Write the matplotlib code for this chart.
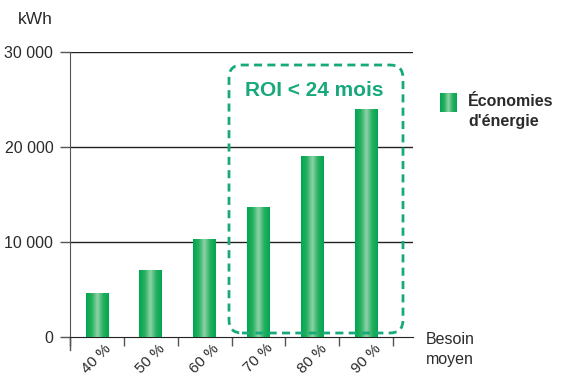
import numpy as np
import matplotlib
matplotlib.use('Agg')
import matplotlib.pyplot as plt
from matplotlib.colors import LinearSegmentedColormap
from matplotlib.patches import FancyBboxPatch

plt.rcParams['font.family'] = ['Liberation Sans', 'DejaVu Sans']

# besoin moyen -> économies annuelles (kWh)
categories = ['40 %', '50 %', '60 %', '70 %', '80 %', '90 %']
savings = [4600, 7000, 10300, 13600, 19000, 24000]
yticks = [0, 10000, 20000, 30000]
ytick_labels = ['0', '10 000', '20 000', '30 000']

text_col = '#2b2b2b'
roi_col = '#17a97b'
bar_cmap = LinearSegmentedColormap.from_list(
    'bar', ['#00a651', '#27b060', '#8fd3a8', '#27b060', '#00a651'])
grad = np.linspace(0, 1, 64).reshape(1, -1)

fig = plt.figure(figsize=(5.63, 3.75), dpi=100)
ax = fig.add_axes([0.1243, 0.1013, 0.6093, 0.76])

x = np.arange(len(categories))
bars = ax.bar(x, savings, width=0.42, color='none', zorder=3)
# shaded fill for each bar
for b in bars:
    x0, y0 = b.get_x(), b.get_y()
    ax.imshow(grad, cmap=bar_cmap, aspect='auto', zorder=3,
              extent=[x0, x0 + b.get_width(), y0, y0 + b.get_height()])

ax.set_xlim(-0.5, 5.87)
ax.set_ylim(0, 30000)

for yv in yticks[1:]:
    ax.axhline(yv, color='#222222', lw=1.0, zorder=1)

ax.set_yticks(yticks, ytick_labels)
ax.tick_params(axis='y', length=7, width=1, color='#555555', pad=5,
               labelsize=11.5, labelcolor=text_col)

# category boundaries as ticks, labels under the bars
ax.set_xticks(np.arange(-0.5, len(categories), 1.0))
ax.set_xticklabels([])
ax.set_xticks(x, categories, minor=True)
ax.tick_params(axis='x', which='major', length=6.5, width=1, color='#555555')
ax.tick_params(axis='x', which='minor', length=0, pad=3, labelsize=11,
               labelcolor=text_col, labelrotation=45)
for lab in ax.get_xticklabels(minor=True):
    lab.set_ha('center')

for s in ['top', 'right']:
    ax.spines[s].set_visible(False)
ax.spines['left'].set_color('#555555')
ax.spines['bottom'].set_color('#222222')
ax.plot([-0.5, -0.5], [0, -0.046], transform=ax.get_xaxis_transform(),
        color='#555555', lw=1, clip_on=False)

fig.text(0.032, 0.947, 'kWh', fontsize=12.5, color=text_col, va='center')
fig.text(0.757, 1 - 332 / 375, 'Besoin\nmoyen', fontsize=11.5,
         color=text_col, va='top', ha='left', linespacing=1.45)

# zone ROI < 24 mois
box = FancyBboxPatch((2.29, 0.42), 1.74, 2.68,
                     boxstyle='round,pad=0,rounding_size=0.13',
                     transform=fig.dpi_scale_trans, fill=False,
                     edgecolor=roi_col, lw=2, linestyle=(0, (2.9, 1.9)),
                     zorder=5)
fig.patches.append(box)
fig.text(3.14 / 5.63, 2.85 / 3.75, 'ROI < 24 mois', fontsize=15,
         fontweight='bold', color=roi_col, ha='center', va='center')

# légende
lax = fig.add_axes([440 / 563, 1 - 112 / 375, 17 / 563, 19 / 375])
lax.imshow(grad, cmap=bar_cmap, aspect='auto')
lax.axis('off')
fig.text(468 / 563, 1 - 94 / 375, 'Économies\nd\'énergie', fontsize=11.5,
         fontweight='bold', color=text_col, va='top', ha='left',
         linespacing=1.4)

fig.savefig('out.png', dpi=100)
